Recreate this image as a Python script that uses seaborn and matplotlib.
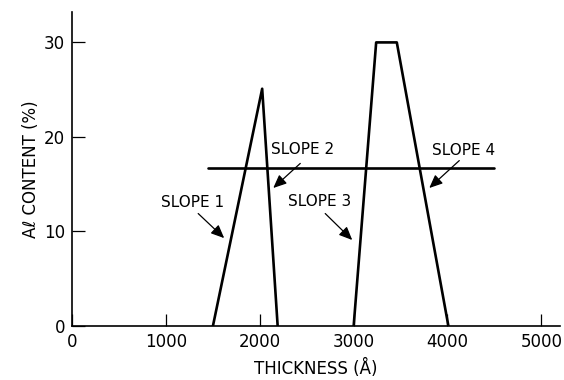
import matplotlib
matplotlib.use("Agg")
import matplotlib.pyplot as plt
import seaborn as sns
import pandas as pd

# Data
peak1_x = [1500, 2025, 2190]
peak1_y = [0, 25.1, 0]
peak2_x = [3000, 3240, 3460, 4010]
peak2_y = [0, 30.0, 30.0, 0]
level_x = [1450, 4500]
level_y = [16.7, 16.7]

x_ticks = [0, 1000, 2000, 3000, 4000, 5000]
y_ticks = [0, 10, 20, 30]

labels = ["SLOPE 1", "SLOPE 2", "SLOPE 3", "SLOPE 4"]
label_xy = [(1280, 13.1), (2460, 18.7), (2640, 13.2), (4170, 18.6)]
arrow_from = [(1343, 11.9), (2431, 17.2), (2697, 11.9), (4126, 17.5)]
arrow_to = [(1620, 9.3), (2143, 14.6), (2985, 9.1), (3806, 14.6)]

sns.set_style("ticks")
plt.rcParams['font.family'] = ['DejaVu Sans']
plt.rcParams['text.color'] = 'black'
plt.rcParams['axes.labelcolor'] = 'black'

fig = plt.figure(figsize=(5.64, 3.80), dpi=100)
ax = fig.add_axes([0.128, 0.142, 0.865, 0.826])

lw = 1.9
df1 = pd.DataFrame({"x": peak1_x, "y": peak1_y})
df2 = pd.DataFrame({"x": peak2_x, "y": peak2_y})
df3 = pd.DataFrame({"x": level_x, "y": level_y})
for d in (df1, df2, df3):
    sns.lineplot(data=d, x="x", y="y", sort=False, color="black", lw=lw, ax=ax,
                 estimator=None)

ax.set_xlim(0, 5200)
ax.set_ylim(0, 33.2)
ax.set_xticks(x_ticks)
ax.set_yticks(y_ticks)
ax.tick_params(direction="in", length=9, width=0.9, labelsize=12, pad=5,
               colors="black", labelcolor="black")
for s in ["top", "right"]:
    ax.spines[s].set_visible(False)
for s in ["left", "bottom"]:
    ax.spines[s].set_linewidth(1.2)
    ax.spines[s].set_color("black")

ax.set_xlabel("THICKNESS (Å)", fontsize=12, labelpad=6, color="black")
ax.set_ylabel("Aℓ CONTENT (%)", fontsize=12, labelpad=3, color="black")

for lab, (tx, ty), (fx, fy), (ex, ey) in zip(labels, label_xy, arrow_from, arrow_to):
    ax.text(tx, ty, lab, ha="center", va="center", fontsize=11, color="black")
    ax.annotate("", xy=(ex, ey), xytext=(fx, fy),
                arrowprops=dict(arrowstyle="-|>,head_length=0.8,head_width=0.35",
                                color="black", lw=0.9, shrinkA=0, shrinkB=0))

fig.savefig("out.png", dpi=100)
